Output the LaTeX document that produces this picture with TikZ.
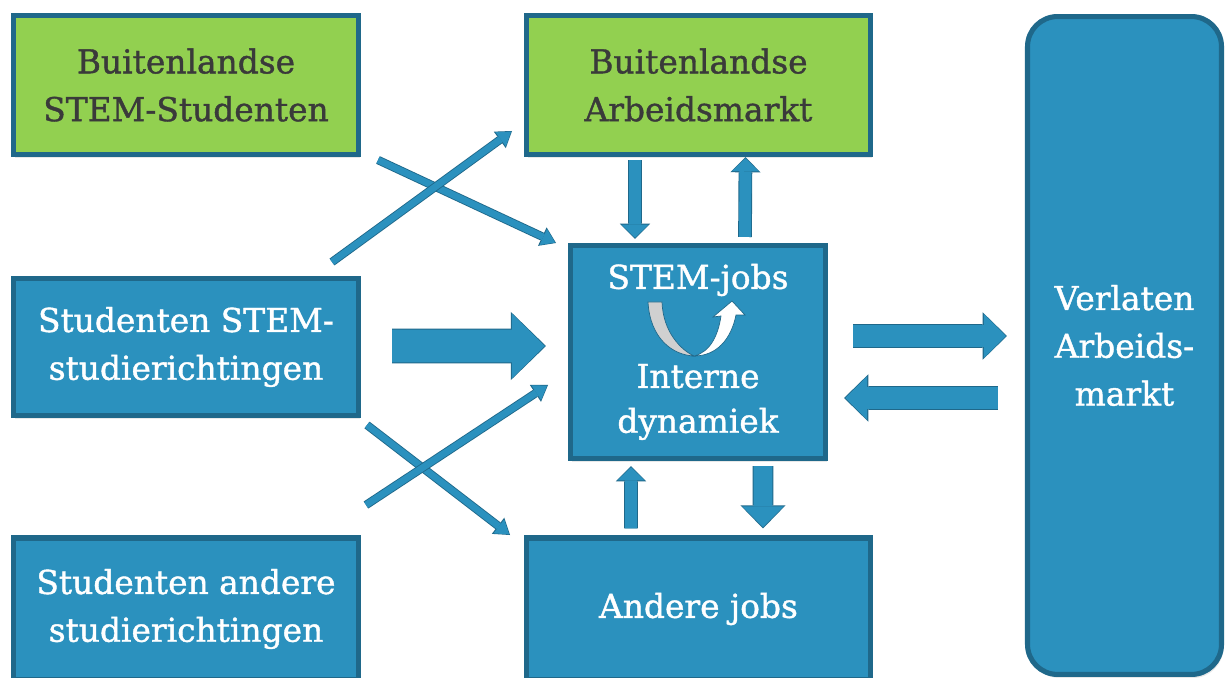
\documentclass[tikz,border=0pt]{standalone}
\usepackage{fontspec}
\setmainfont{DejaVu Serif}
\newfontfamily\boxfam{DejaVu Serif}[FakeBold=1.2]
\usetikzlibrary{arrows.meta, shadows}
\definecolor{boxc}{RGB}{43,145,190}
\definecolor{bordc}{RGB}{31,104,138}
\definecolor{greenc}{RGB}{146,208,80}
\definecolor{darktext}{RGB}{58,58,58}
\definecolor{backc}{RGB}{208,208,208}
\newcommand{\boxfont}{\boxfam\fontsize{18.7}{27.2}\selectfont}

\begin{document}
\begin{tikzpicture}[x=0.02cm, y=-0.02cm,
		blockbox/.style={draw=bordc, line width=2.9pt, fill=boxc, text=white, align=center, font=\boxfont, inner sep=0pt, drop shadow={shadow xshift=1pt, shadow yshift=-2pt, opacity=0.18}},
		greenbox/.style={blockbox, fill=greenc, text=darktext},
		label/.style={text=white, align=center, inner sep=0pt},
		thinarrow/.style={preaction={draw=bordc, line width=4.8pt, shorten >=0pt, -{Triangle[length=8.6pt, width=11.6pt, line width=0pt]}}, draw=boxc, line width=3.8pt, shorten >=0.6pt, -{Triangle[length=7.4pt, width=10pt, line width=0pt]}},
		bigarrow/.style={preaction={draw=bordc, line width=19.7pt, shorten >=0pt, -{Triangle[length=20pt, width=38.8pt, line width=0pt]}}, draw=boxc, line width=18.7pt, shorten >=0.7pt, -{Triangle[length=18.7pt, width=36.9pt, line width=0pt]}},
		sidearrow/.style={preaction={draw=bordc, line width=13.5pt, shorten >=0pt, -{Triangle[length=13.8pt, width=26.9pt, line width=0pt]}}, draw=boxc, line width=12.5pt, shorten >=0.7pt, -{Triangle[length=12.5pt, width=25pt, line width=0pt]}},
		smallarrow/.style={preaction={draw=bordc, line width=7.8pt, shorten >=0pt, -{Triangle[length=8.7pt, width=17.2pt, line width=0pt]}}, draw=boxc, line width=6.8pt, shorten >=0.7pt, -{Triangle[length=7.4pt, width=15.3pt, line width=0pt]}},
		downarrow/.style={preaction={draw=bordc, line width=11.8pt, shorten >=0pt, -{Triangle[length=13.2pt, width=25.7pt, line width=0pt]}}, draw=boxc, line width=10.8pt, shorten >=0.7pt, -{Triangle[length=11.9pt, width=23.8pt, line width=0pt]}}]
		\path[fill=white, use as bounding box] (0,0) rectangle (1226,678);
		
		\node[greenbox, minimum width=6.9cm, minimum height=2.78cm] (bss) at (186,85) {Buitenlandse\\STEM-Studenten};
		\node[greenbox, minimum width=6.88cm, minimum height=2.78cm] (bam) at (698.5,85) {Buitenlandse\\Arbeidsmarkt};
		\node[blockbox, minimum width=6.9cm, minimum height=2.74cm] (sst) at (186,347) {Studenten STEM-\\studierichtingen};
		\node[blockbox, minimum width=6.9cm, minimum height=2.84cm] (sand) at (186,609) {Studenten andere\\studierichtingen};
		\node[blockbox, minimum width=6.88cm, minimum height=2.84cm] (aj) at (698.5,609) {Andere jobs};
		\node[blockbox, minimum width=5.1cm, minimum height=4.26cm] (sj) at (698,352) {};
		\node[blockbox, minimum width=3.88cm, minimum height=13.16cm, rounded corners=0.6cm] (vam) at (1124.5,345.5) {Verlaten\\Arbeids-\\markt};
		
		\node[label, font=\boxfont] (sjt) at (698,280) {STEM-jobs};
		\node[label, font=\boxfam\fontsize{18.7}{25.5}\selectfont] (sjd) at (698,402) {Interne\\dynamiek};
		
		\fill[backc, draw=bordc, line width=0.4pt] (648,302) .. controls (650,338) and (672,355) .. (694,356) .. controls (681,350) and (663,332) .. (662,302) -- cycle;
		\fill[white, draw=bordc, line width=0.4pt] (694,356) .. controls (710,352) and (718,336) .. (721,316) -- (713,317) -- (732,301) -- (745,315) -- (736,315) .. controls (731,340) and (716,356) .. (694,356) -- cycle;
		
		\coordinate (bssout) at (378,160);
		\coordinate (sjin1) at (556,243);
		\coordinate (sstout1) at (332,262);
		\coordinate (bamin) at (512,131);
		\coordinate (sstout2) at (367,425);
		\coordinate (ajin) at (510,535);
		\coordinate (sandout) at (366,505);
		\coordinate (sjin2) at (548,385);
		
		\draw[thinarrow] (bssout) -- (sjin1);
		\draw[thinarrow] (sstout1) -- (bamin);
		\draw[thinarrow] (sstout2) -- (ajin);
		\draw[thinarrow] (sandout) -- (sjin2);
		
		\draw[bigarrow] ([xshift=0.62cm, yshift=0.02cm]sst.east) -- ([xshift=-0.44cm, yshift=0.12cm]sj.west);
		\draw[smallarrow] ([xshift=-1.27cm, yshift=-0.06cm]bam.south) -- ([xshift=-1.26cm, yshift=0.08cm]sj.north);
		\draw[smallarrow] ([xshift=0.94cm, yshift=0.12cm]sj.north) -- ([xshift=0.94cm]bam.south);
		\draw[smallarrow] ([xshift=-1.35cm, yshift=0.14cm]aj.north) -- ([xshift=-1.34cm, yshift=-0.1cm]sj.south);
		\draw[downarrow] ([xshift=1.3cm, yshift=-0.1cm]sj.south) -- ([xshift=1.29cm, yshift=0.14cm]aj.north);
		\draw[sidearrow] ([xshift=0.5cm, yshift=0.32cm]sj.east) -- ([xshift=-0.36cm, yshift=0.19cm]vam.west);
		\draw[sidearrow] ([xshift=-0.54cm, yshift=-1.05cm]vam.west) -- ([xshift=0.32cm, yshift=-0.92cm]sj.east);
\end{tikzpicture}
\end{document}
